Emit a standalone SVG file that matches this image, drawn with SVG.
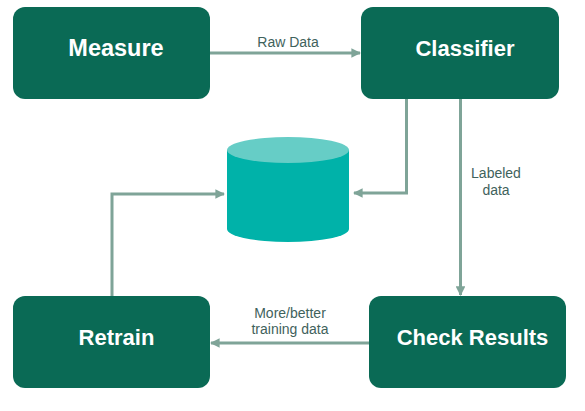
<svg xmlns="http://www.w3.org/2000/svg" width="585" height="411" viewBox="0 0 585 411">
<defs>
<style>
.box{fill:#0a6a55;}
.title{font-family:"Liberation Sans",Arial,sans-serif;font-weight:bold;font-size:22px;fill:#ffffff;text-anchor:middle;}
.lbl{font-family:"Liberation Sans",Arial,sans-serif;font-size:14px;fill:#3f625c;text-anchor:middle;}
.conn{fill:none;stroke:#7fa498;stroke-width:3;}
</style>
<marker id="ah" viewBox="0 0 10 10" refX="9" refY="5" markerWidth="3.2" markerHeight="3.2" orient="auto" markerUnits="strokeWidth">
<path d="M0,0 L10,5 L0,10 Z" fill="#7fa498"/>
</marker>
</defs>
<rect width="585" height="411" fill="#ffffff"/>
<g id="connectors">
<line class="conn" x1="210" y1="53" x2="360" y2="53" marker-end="url(#ah)"/>
<polyline class="conn" points="406.5,99 406.5,193 354,193" marker-end="url(#ah)"/>
<line class="conn" x1="460.5" y1="99" x2="460.5" y2="295" marker-end="url(#ah)"/>
<polyline class="conn" points="112,296 112,194 224,194" marker-end="url(#ah)"/>
<line class="conn" x1="369" y1="343" x2="211" y2="343" marker-end="url(#ah)"/>
<text class="lbl" x="288" y="47">Raw Data</text>
<text class="lbl" x="496" y="178">Labeled</text>
<text class="lbl" x="496" y="195">data</text>
<text class="lbl" x="290" y="318">More/better</text>
<text class="lbl" x="290" y="334">training data</text>
</g>
<g id="measure">
<rect class="box" x="13" y="7" width="197" height="92" rx="12"/>
<text class="title" x="116" y="56" style="font-size:23.5px">Measure</text>
</g>
<g id="classifier">
<rect class="box" x="361" y="7" width="198" height="92" rx="12"/>
<text class="title" x="465" y="56">Classifier</text>
</g>
<g id="database">
<path d="M227,150 L227,229 A61,13 0 0 0 349,229 L349,150 Z" fill="#00b2a9"/>
<ellipse cx="288" cy="150" rx="61" ry="13" fill="#66cdc6"/>
</g>
<g id="retrain">
<rect class="box" x="13" y="296" width="197" height="92" rx="12"/>
<text class="title" x="116.5" y="345">Retrain</text>
</g>
<g id="check-results">
<rect class="box" x="369" y="296" width="197" height="92" rx="12"/>
<text class="title" x="472.5" y="345">Check Results</text>
</g>
</svg>
